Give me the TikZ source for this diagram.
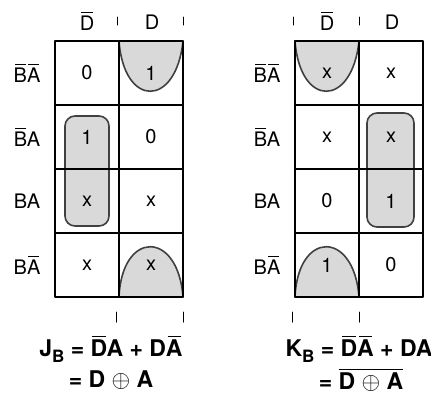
\documentclass[tikz,border=0pt]{standalone}
\usepackage{fontspec}
\setmainfont{TeX Gyre Heros}
\newlength{\ovlw}
\newcommand{\ovl}[1]{\settowidth{\ovlw}{#1}\makebox[0pt][l]{\hspace{0.07em}\rule[0.86em]{\dimexpr\ovlw-0.14em\relax}{0.065em}}#1}
\newcommand{\sub}[1]{\raisebox{-0.45ex}{\fontsize{8.5}{9}\selectfont #1}}
\begin{document}
\begin{tikzpicture}[x=0.5pt,y=-0.5pt,line join=round,line cap=round,font=\fontsize{10}{12}\selectfont,
	grid/.style={line width=1.1pt},
	loop/.style={draw=black!75,line width=0.8pt,fill=black!15},
	tick/.style={line width=0.5pt},
	eqn/.style={font=\fontsize{11.5}{14}\selectfont\bfseries}]
	\useasboundingbox (0,0) rectangle (431,392);
	\path
	(55,41)coordinate(JT)
	(183,297)coordinate(JB)
	(295,41)coordinate(KT)
	(423,297)coordinate(KB)
	;
	% loops of the J map
	\draw[loop] (119,41) .. controls (124,108) and (176,108) .. (183,41);
	\draw[loop] (119,297) .. controls (122,230) and (178,230) .. (183,297);
	\draw[loop,rounded corners=5] (65,116) rectangle (109,226);
	% loops of the K map
	\draw[loop] (295,41) .. controls (300,108) and (352,108) .. (359,41);
	\draw[loop] (295,297) .. controls (298,230) and (354,230) .. (359,297);
	\draw[loop,rounded corners=5] (367,113) rectangle (414,227);
	% grids
	\draw[grid] (JT) rectangle (JB) (119,41)--(119,297);
	\draw[grid] (KT) rectangle (KB) (359,41)--(359,297);
	\foreach \y in {105,169,233}
	\draw[grid] (55,\y)--(183,\y) (295,\y)--(423,\y);
	\foreach \x in {117,183,293,359}
	\draw[tick] (\x,17)--(\x,25);
	\foreach \x in {116,183,292,359}
	\draw[tick] (\x,312)--(\x,322);
	% headings
	\foreach \n/\x in {jd/87,kd/327}
	\node (\n) at (\x,21) {\ovl{D}};
	\foreach \n/\x in {jD/152,kD/392}
	\node (\n) at (\x,22) {D};
	\foreach \n/\x in {j/27,k/267}
	\foreach \r/\y/\t in {1/73/\ovl{B}\ovl{A},2/137/\ovl{B}A,3/201/BA,4/265/B\ovl{A}}
	\node (\n r\r) at (\x,\y) {\t};
	% cells
	\foreach \n/\x/\y/\t in {
	j11/87/73/0,j12/151/73/1,j21/87/137/1,j22/151/137/0,
	j31/87/201/x,j32/151/201/x,j41/87/265/x,j42/151/265/x,
	k11/327/73/x,k12/391/73/x,k21/327/137/x,k22/391/137/x,
	k31/327/201/0,k32/391/201/1,k41/327/265/1,k42/391/265/0}
	\node (\n) at (\x,\y) {\t};
	% results
	\node[eqn] (jeq) at (111,349) {J\sub{B} = \ovl{D}A + D\ovl{A}};
	\node[eqn] (jxor) at (111,380) {= D $\oplus$ A};
	\node[eqn] (keq) at (359,349) {K\sub{B} = \ovl{D}\ovl{A} + DA};
	\node[eqn] (kxor) at (361,380) {= $\overline{\mbox{D $\oplus$ A}}$};
\end{tikzpicture}
\end{document}
